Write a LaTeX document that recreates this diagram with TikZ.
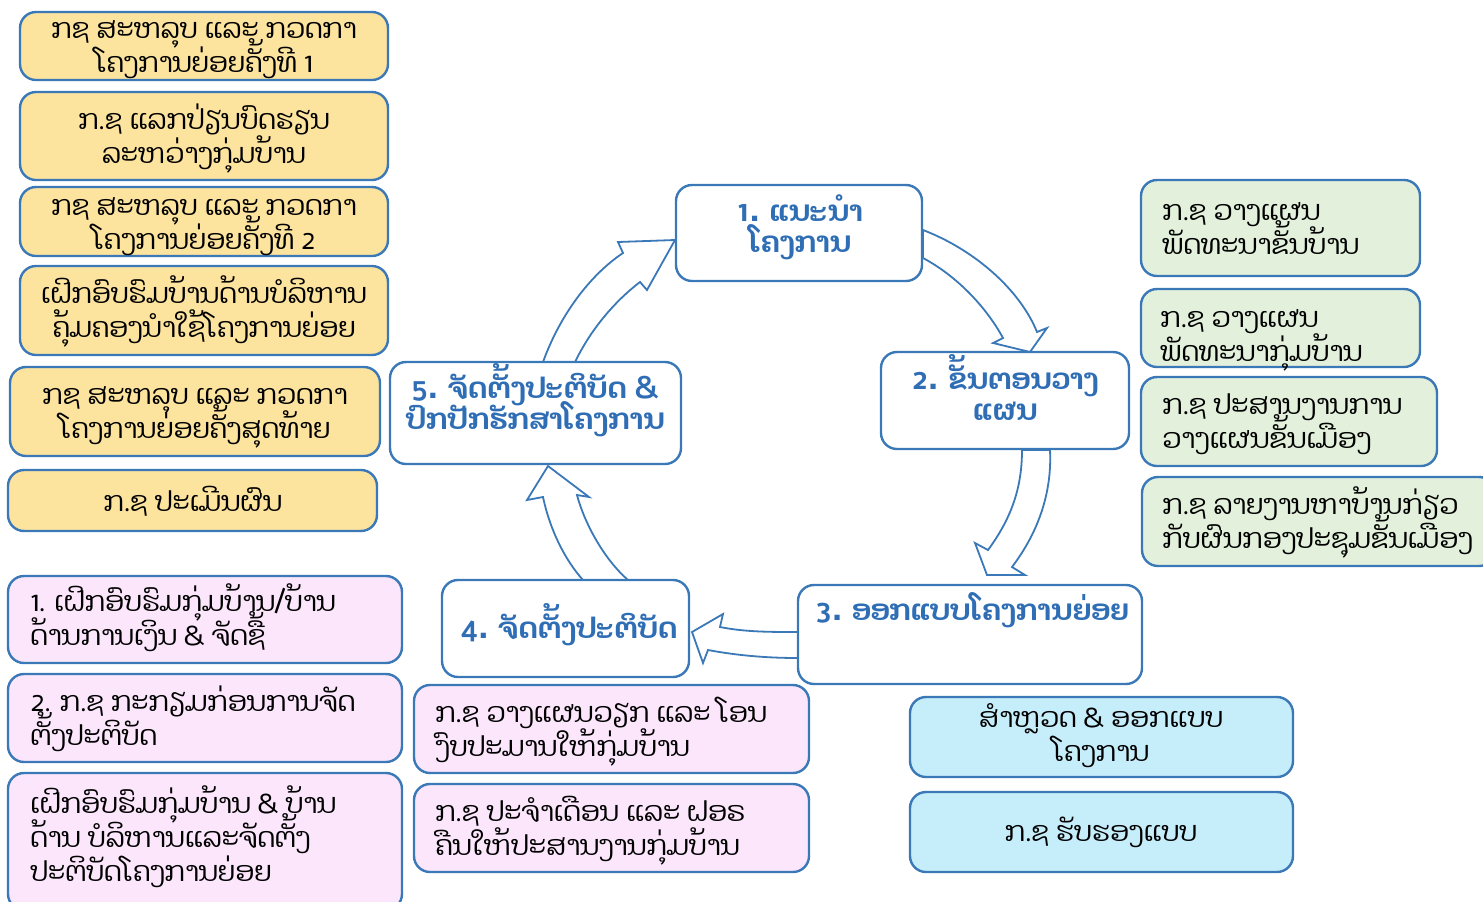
\documentclass[tikz,border=0pt]{standalone}
\usepackage{fontspec}
\newfontfamily\lao[Script=Lao]{Dhyana}
\usetikzlibrary{fit}
\definecolor{bord}{HTML}{3A78B8}
\definecolor{ctext}{HTML}{2F6EB5}
\definecolor{yfill}{HTML}{FCE39E}
\definecolor{pfill}{HTML}{FBE6FB}
\definecolor{gfill}{HTML}{E3F1DC}
\definecolor{bfill}{HTML}{C6EDFA}
\newcommand\ls{\rule[-9pt]{0pt}{29pt}}
\tikzset{
  box/.style={draw=bord, line width=1.2pt, rounded corners=8pt, inner sep=0pt},
  ybox/.style={box, fill=yfill},
  pbox/.style={box, fill=pfill},
  gbox/.style={box, fill=gfill},
  bbox/.style={box, fill=bfill},
  cbox/.style={box, fill=white},
  txt/.style={font={\lao\fontsize{13.8}{17}\selectfont\lineskiplimit=-50pt\lineskip=0pt}, align=center, inner sep=0pt, text=black},
  ltxt/.style={txt, align=left, anchor=west},
  ctxt/.style={font={\lao\bfseries\fontsize{14.5}{15.3}\selectfont\lineskiplimit=-50pt\lineskip=0pt}, align=center, inner sep=0pt, text=ctext},
  blockarrow/.style={draw=bord, line width=0.9pt, fill=white, line join=miter}
}
\begin{document}
\begin{tikzpicture}[x=0.5pt,y=-0.5pt]
\useasboundingbox (0,0) rectangle (1483,901);
% block arrows
\path[blockarrow] (923,230) .. controls (975,250) and (1020,290) .. (1037,332) -- (1047,328) -- (1030,352) -- (993,343) -- (1003,338) .. controls (985,305) and (955,275) .. (923,258) -- cycle;
\path[blockarrow] (1022,450) .. controls (1022,490) and (1010,520) .. (988,550) -- (975,543) -- (987,575) -- (1025,575) -- (1012,567) .. controls (1040,530) and (1052,490) .. (1050,450) -- cycle;
\path[blockarrow] (798,632) .. controls (770,632) and (745,632) .. (720,627) -- (723,614) -- (692,632) -- (703,663) -- (708,650) .. controls (740,656) and (770,658) .. (798,658) -- cycle;
\path[blockarrow] (628,580) .. controls (605,560) and (585,525) .. (577,495) -- (589,497) -- (548,466) -- (527,500) -- (543,497) .. controls (550,530) and (565,560) .. (583,580) -- cycle;
\path[blockarrow] (543,362) .. controls (560,315) and (590,275) .. (623,253) -- (618,242) -- (675,240) -- (647,290) -- (640,282) .. controls (610,305) and (588,335) .. (575,362) -- cycle;
% left yellow boxes
\node[ybox, fit={(20,12) (388,80)}] (y1) {};
\node[txt] (y1t) at (204,44) {\ls ກຊ ສະຫລຸບ ແລະ ກວດກາ\\\ls ໂຄງການຍ່ອຍຄັ້ງທີ 1};
\node[ybox, fit={(20,92) (388,180)}] (y2) {};
\node[txt] (y2t) at (204,135) {\ls ກ.ຊ ແລກປ່ຽນບົດຮຽນ\\\ls ລະຫວ່າງກຸ່ມບ້ານ};
\node[ybox, fit={(20,187) (388,256)}] (y3) {};
\node[txt] (y3t) at (204,221) {\ls ກຊ ສະຫລຸບ ແລະ ກວດກາ\\\ls ໂຄງການຍ່ອຍຄັ້ງທີ 2};
\node[ybox, fit={(20,266) (388,355)}] (y4) {};
\node[txt] (y4t) at (204,309) {\ls ເຝິກອົບຮົມບ້ານດ້ານບໍລິຫານ\\\ls ຄຸ້ມຄອງນຳໃຊ້ໂຄງການຍ່ອຍ};
\node[ybox, fit={(10,367) (380,456)}] (y5) {};
\node[txt] (y5t) at (195,410) {\ls ກຊ ສະຫລຸບ ແລະ ກວດກາ\\\ls ໂຄງການຍ່ອຍຄັ້ງສຸດທ້າຍ};
\node[ybox, fit={(8,470) (377,531)}] (y6) {};
\node[txt] (y6t) at (193,500) {\ls ກ.ຊ ປະເມີນຜົນ};
% left pink boxes
\node[pbox, fit={(8,576) (402,663)}] (p1) {};
\node[ltxt] (p1t) at (30,617) {\ls 1. ເຝິກອົບຮົມກຸ່ມບ້ານ/ບ້ານ\\\ls ດ້ານການເງິນ \& ຈັດຊື້};
\node[pbox, fit={(8,674) (402,762)}] (p2) {};
\node[ltxt] (p2t) at (30,717) {\ls 2. ກ.ຊ ກະກຽມກ່ອນການຈັດ\\\ls ຕັ້ງປະຕິບັດ};
\node[pbox, fit={(8,773) (402,910)}] (p3) {};
\node[ltxt] (p3t) at (30,836) {\ls ເຝິກອົບຮົມກຸ່ມບ້ານ \& ບ້ານ\\\ls ດ້ານ ບໍລິຫານແລະຈັດຕັ້ງ\\\ls ປະຕິບັດໂຄງການຍ່ອຍ};
% middle pink boxes
\node[pbox, fit={(414,685) (809,773)}] (p4) {};
\node[ltxt] (p4t) at (435,728) {\ls ກ.ຊ ວາງແຜນວຽກ ແລະ ໂອນ\\\ls ງົບປະມານໃຫ້ກຸ່ມບ້ານ};
\node[pbox, fit={(414,784) (809,872)}] (p5) {};
\node[ltxt] (p5t) at (435,827) {\ls ກ.ຊ ປະຈຳເດືອນ ແລະ ຝອຣ\\\ls ຄືນໃຫ້ປະສານງານກຸ່ມບ້ານ};
% green boxes
\node[gbox, fit={(1141,180) (1420,276)}] (g1) {};
\node[ltxt] (g1t) at (1162,226) {\ls ກ.ຊ ວາງແຜນ\\\ls ພັດທະນາຂັ້ນບ້ານ};
\node[gbox, fit={(1141,289) (1420,367)}] (g2) {};
\node[ltxt] (g2t) at (1160,333) {\ls ກ.ຊ ວາງແຜນ\\\ls ພັດທະນາກຸ່ມບ້ານ};
\node[gbox, fit={(1141,377) (1437,466)}] (g3) {};
\node[ltxt] (g3t) at (1162,420) {\ls ກ.ຊ ປະສານງານການ\\\ls ວາງແຜນຂັ້ນເມືອງ};
\node[gbox, fit={(1142,477) (1495,566)}] (g4) {};
\node[ltxt] (g4t) at (1162,520) {\ls ກ.ຊ ລາຍງານຫາບ້ານກ່ຽວ\\\ls ກັບຜົນກອງປະຊຸມຂັ້ນເມືອງ};
% blue boxes
\node[bbox, fit={(910,697) (1293,777)}] (b1) {};
\node[txt] (b1t) at (1101,733) {\ls ສຳຫຼວດ \& ອອກແບບ\\\ls ໂຄງການ};
\node[bbox, fit={(910,792) (1293,872)}] (b2) {};
\node[txt] (b2t) at (1101,830) {\ls ກ.ຊ ຮັບຮອງແບບ};
% cycle boxes
\node[cbox, fit={(676,185) (922,281)}] (c1) {};
\node[ctxt] (c1t) at (800,226) {\ls 1. ແນະນຳ\\\ls ໂຄງການ};
\node[cbox, fit={(881,352) (1129,449)}] (c2) {};
\node[ctxt] (c2t) at (1005,394) {\ls 2. ຂັ້ນຕອນວາງ\\\ls ແຜນ};
\node[cbox, fit={(798,585) (1142,684)}] (c3) {};
\node[ctxt, anchor=west] (c3t) at (815,609) {\ls 3. ອອກແບບໂຄງການຍ່ອຍ};
\node[cbox, fit={(442,580) (689,677)}] (c4) {};
\node[ctxt, anchor=west] (c4t) at (460,627) {\ls 4. ຈັດຕັ້ງປະຕິບັດ};
\node[cbox, fit={(390,362) (681,464)}] (c5) {};
\node[ctxt] (c5t) at (535,403) {\ls 5. ຈັດຕັ້ງປະຕິບັດ \&\\\ls ປົກປັກຮັກສາໂຄງການ};
\end{tikzpicture}
\end{document}
